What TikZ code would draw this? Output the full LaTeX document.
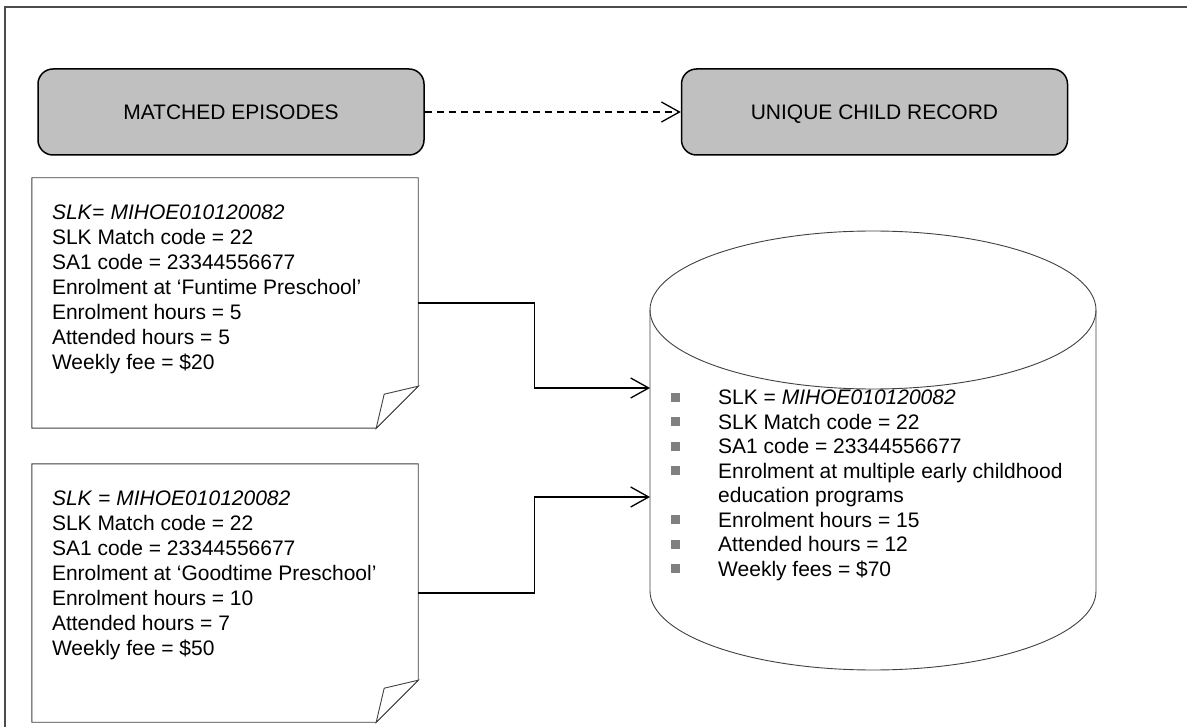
\documentclass[tikz,border=0pt]{standalone}
\usepackage{fontspec}
\setmainfont{Liberation Sans}
\usetikzlibrary{positioning,arrows.meta}

\begin{document}
\begin{tikzpicture}[x=1pt, y=-1pt,
  stage/.style={draw=black, line width=1.5pt, fill=boxgray, rounded corners=15pt,
    minimum width=386pt, minimum height=86pt, inner sep=0pt,
    text height=15pt, text depth=0pt,
    font=\fontsize{21}{25}\selectfont},
  notebody/.style={draw=none, minimum width=386pt, inner sep=0pt},
  notetext/.style={align=left, inner sep=0pt, font=\fontsize{21}{25}\selectfont},
  listtext/.style={align=left, inner sep=0pt, font=\fontsize{21}{24.5}\selectfont},
  noteline/.style={draw=black!75, line width=0.9pt},
  flow/.style={line width=1.3pt, -{Straight Barb[length=18pt, width=20pt, line width=1.3pt]}}]

%─────────────
% Controls
%─────────────
\definecolor{boxgray}{HTML}{C0C0C0}   % stage boxes
\definecolor{bulgray}{HTML}{808080}   % list bullets
\def\foldw{42}  % how far the folded corner reaches in
\def\foldin{34} % inner point of the flap

\useasboundingbox (0,0) rectangle (1187,727);

% outer frame (only left and top are seen)
\draw[black!70, line width=1.3pt] (5,727) -- (5,7) -- (1187,7);

%─────────────────────────────────────────────────────────────
% Draws a note with a folded bottom right corner round a node:
%─────────────────────────────────────────────────────────────
\newcommand{\drawNote}[1]{%
  \draw[noteline, fill=white] (#1.north west) -- (#1.north east)
    -- ([yshift=\foldw pt]#1.south east) -- ([xshift=-\foldw pt]#1.south east)
    -- (#1.south west) -- cycle;
  % the flap
  \draw[noteline, fill=white] ([yshift=\foldw pt]#1.south east)
    -- ([xshift=-\foldin pt, yshift=\foldin pt]#1.south east)
    -- ([xshift=-\foldw pt]#1.south east) -- cycle;
}

% square grey bullet, then a tab
\newcommand{\bul}{\makebox[47pt][l]{\textcolor{bulgray}{\rule[3pt]{9pt}{9pt}}}}

%─────────────
% Stages
%─────────────
\node[stage] (me) at (231,112) {MATCHED EPISODES};
\node[stage, right=256pt of me] (ucr) {UNIQUE CHILD RECORD};

\draw[flow, dash pattern=on 7pt off 5pt] (me.east) -- (ucr.west);

%─────────────
% Episodes
%─────────────
\node[notebody, minimum height=250pt] (ep1) at (225,303) {};
\drawNote{ep1}
\node[notetext, below right=27pt and 20pt of ep1.north west] (ep1txt) {%
  \textit{SLK}= \textit{MIHOE010120082}\\
  SLK Match code = 22\\
  SA1 code = 23344556677\\
  Enrolment at ‘Funtime Preschool’\\
  Enrolment hours = 5\\
  Attended hours = 5\\
  Weekly fee = \$20};

\node[notebody, minimum height=258pt] (ep2) at (225,593) {};
\drawNote{ep2}
\node[notetext, below right=27pt and 20pt of ep2.north west] (ep2txt) {%
  \textit{SLK} = \textit{MIHOE010120082}\\
  SLK Match code = 22\\
  SA1 code = 23344556677\\
  Enrolment at ‘Goodtime Preschool’\\
  Enrolment hours = 10\\
  Attended hours = 7\\
  Weekly fee = \$50};

%─────────────
% Child record (cylinder)
%─────────────
\draw[noteline] (873,310) ellipse [x radius=223pt, y radius=79pt];
\draw[noteline] (650,310) -- (650,591)
  arc[start angle=180, end angle=360, x radius=223pt, y radius=79pt] -- (1096,310);

\coordinate (in1) at (650,388);
\coordinate (in2) at (650,497);

\node[listtext, anchor=north west] (ucrtxt) at (671,390) {%
  \bul SLK = \textit{MIHOE010120082}\\
  \bul SLK Match code = 22\\
  \bul SA1 code = 23344556677\\
  \bul Enrolment at multiple early childhood\\
  \hspace*{47pt}education programs\\
  \bul Enrolment hours = 15\\
  \bul Attended hours = 12\\
  \bul Weekly fees = \$70};

% episodes feed the record
\draw[flow] (ep1.east) -- ++(116,0) |- (in1);
\draw[flow] (ep2.east) -- ++(116,0) |- (in2);

\end{tikzpicture}
\end{document}
